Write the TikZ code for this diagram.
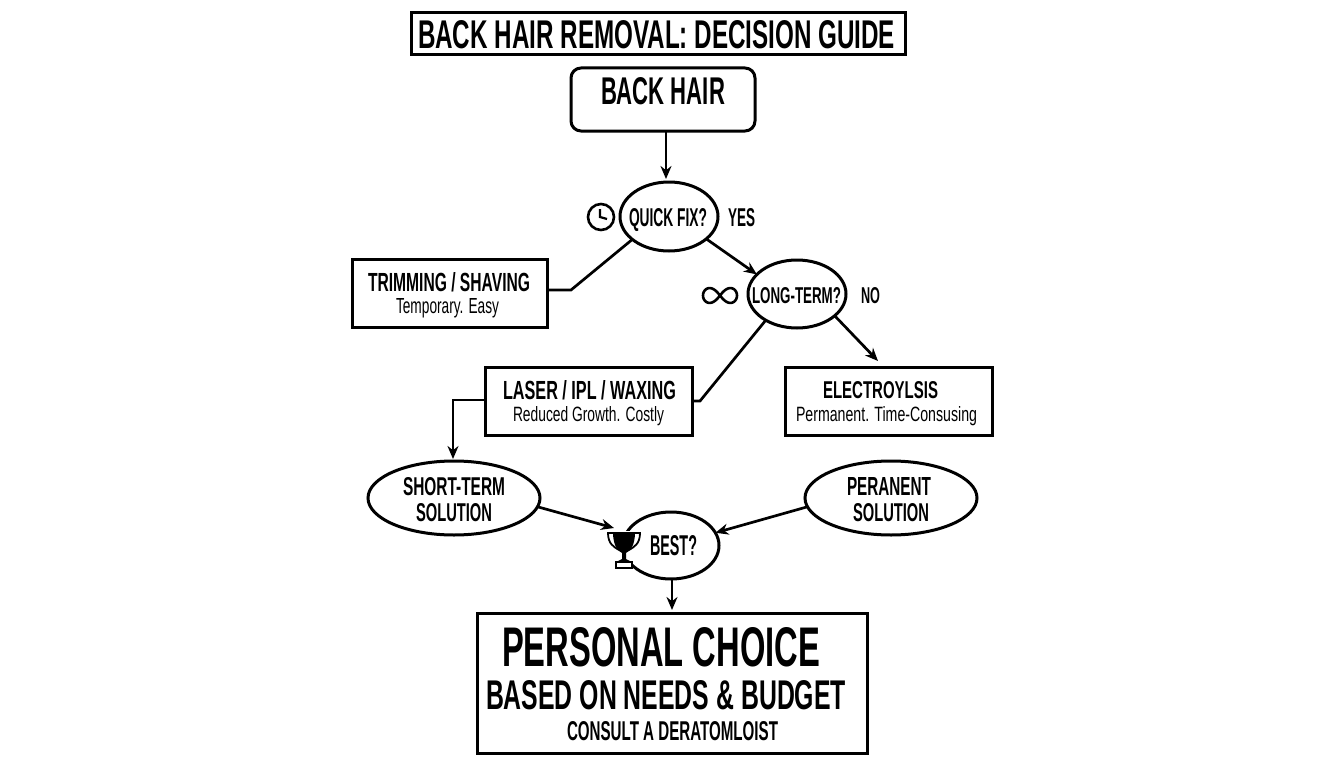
\documentclass[tikz,border=0pt]{standalone}
\usepackage{graphicx}
\usepackage{fontspec}
\setmainfont[FakeStretch=0.72]{Liberation Sans}
\usetikzlibrary{arrows.meta,shapes.geometric}
\newcommand{\tx}[3]{\resizebox{#1pt}{#2pt}{\textbf{#3}}}
\newcommand{\tn}[3]{\resizebox{#1pt}{#2pt}{#3}}
\tikzset{
  boxnode/.style={draw=black,line width=3pt,fill=white,rectangle,inner sep=0pt,outer sep=0pt},
  roundnode/.style={boxnode,rounded corners=10pt},
  oval/.style={draw=black,line width=3pt,fill=white,ellipse,inner sep=0pt,outer sep=0pt},
  label text/.style={anchor=base west,inner sep=0pt,outer sep=0pt,text=black},
  link/.style={draw=black,line width=2.7pt},
  arrowlink/.style={link,-{Stealth[length=13pt,width=11pt]}},
  icon/.style={draw=black,line width=2.4pt}
}
\begin{document}
\begin{tikzpicture}[x=1pt,y=-1pt]
\useasboundingbox (0,0) rectangle (1344,768);
\fill[white] (0,0) rectangle (1344,768);

% boxes
\node[boxnode,minimum width=494pt,minimum height=42pt] (title) at (658,34) {};
\node[roundnode,minimum width=184pt,minimum height=63pt] (back) at (663,99.5) {};
\node[boxnode,minimum width=195pt,minimum height=68pt] (trim) at (449.5,293) {};
\node[boxnode,minimum width=207pt,minimum height=68pt] (laser) at (588.5,401) {};
\node[boxnode,minimum width=207pt,minimum height=68pt] (electro) at (888.5,401) {};
\node[boxnode,minimum width=390pt,minimum height=140pt] (final) at (672,683) {};

% ovals
\node[oval,minimum width=98pt,minimum height=69pt] (quick) at (669,216.5) {};
\node[oval,minimum width=98pt,minimum height=68pt] (long) at (797,294) {};
\node[oval,minimum width=172pt,minimum height=74pt] (short) at (454,498) {};
\node[oval,minimum width=172pt,minimum height=74pt] (perm) at (891,498) {};
\node[oval,minimum width=96pt,minimum height=67pt] (best) at (671,545.5) {};

% icons
\node[draw=black,line width=2.6pt,circle,minimum size=26pt,inner sep=0pt] (clock) at (601,217) {};
\draw[icon,line width=2.2pt] (clock.center) ++(-1,-8) -- ++(0,8) -- ++(7,2);
\coordinate (inf) at (720,295.5);
\begin{scope}[shift={(inf)}]
\draw[icon,line width=2.6pt] plot[domain=0:360,samples=73,smooth cycle]
  ({17*cos(\x)/(1+sin(\x)*sin(\x))},{21*sin(\x)*cos(\x)/(1+sin(\x)*sin(\x))});
\end{scope}

% trophy
\coordinate (trophy) at (624,550);
\fill[white] ([shift={(-19,-19)}]trophy) rectangle ([shift={(17,3)}]trophy);
\fill[white] ([shift={(-10,3)}]trophy) rectangle ([shift={(9,19)}]trophy);
\fill[black] ([shift={(-11,-18)}]trophy) -- ([shift={(11,-18)}]trophy)
  .. controls ([shift={(11,-4)}]trophy) and ([shift={(6,1)}]trophy) .. ([shift={(2,3)}]trophy)
  -- ([shift={(2,9)}]trophy) -- ([shift={(6,11)}]trophy) -- ([shift={(-6,11)}]trophy)
  -- ([shift={(-2,9)}]trophy) -- ([shift={(-2,3)}]trophy)
  .. controls ([shift={(-6,1)}]trophy) and ([shift={(-11,-4)}]trophy) .. ([shift={(-11,-18)}]trophy) -- cycle;
\draw[icon,line width=1.8pt] ([shift={(-11,-17)}]trophy) -- ([shift={(-16,-17)}]trophy)
  .. controls ([shift={(-16,-6)}]trophy) and ([shift={(-10,-3)}]trophy) .. ([shift={(-5,0)}]trophy);
\draw[icon,line width=1.8pt] ([shift={(11,-17)}]trophy) -- ([shift={(16,-17)}]trophy)
  .. controls ([shift={(16,-6)}]trophy) and ([shift={(10,-3)}]trophy) .. ([shift={(5,0)}]trophy);
\draw[icon,line width=1.8pt] ([shift={(-8,12)}]trophy) rectangle ([shift={(8,18)}]trophy);

% connectors
\coordinate (backend) at (666,179);
\draw[arrowlink] (back.south -| backend) -- (backend);
\coordinate (trimbend) at (571,290);
\draw[link] (trim.east |- trimbend) -- (trimbend) -- (quick.212);
\draw[arrowlink] (quick.-31) -- (long.154);
\coordinate (laserbend) at (700,401);
\draw[link] (laser.east |- laserbend) -- (laserbend) -- (long.220);
\coordinate (electroend) at (878,361);
\draw[arrowlink] (long.-30) -- (electroend);
\coordinate (laserdown) at (453,400);
\coordinate (shortend) at (453,459);
\draw[arrowlink] (laser.west |- laserdown) -- (laserdown) -- (shortend);
\draw[arrowlink] (short.-6) -- ([shift={(-10,-22)}]trophy);
\draw[arrowlink] (perm.186) -- (best.16);
\coordinate (finalend) at (672,610);
\draw[arrowlink] (best.south -| finalend) -- (finalend);

% text
\node[label text] (t1) at (418,49) {\tx{477}{28}{BACK HAIR REMOVAL: DECISION GUIDE}};
\node[label text] (t2) at (601,104) {\tx{124}{27}{BACK HAIR}};
\node[label text] (t3) at (629,226) {\tx{78}{18}{QUICK FIX?}};
\node[label text] (t4) at (728,226) {\tx{27}{18}{YES}};
\node[label text] (t5) at (368,291) {\tx{162}{19}{TRIMMING / SHAVING}};
\node[label text] (t6) at (396,313) {\tn{103}{15}{Temporary. Easy}};
\node[label text] (t7) at (752,303) {\tx{89}{16}{LONG-TERM?}};
\node[label text] (t8) at (861,303) {\tx{19}{16}{NO}};
\node[label text] (t9) at (503,399) {\tx{173}{19}{LASER / IPL / WAXING}};
\node[label text] (t10) at (513,421) {\tn{151}{15}{Reduced Growth. Costly}};
\node[label text] (t11) at (823,398) {\tx{115}{17}{ELECTROYLSIS}};
\node[label text] (t12) at (796,421) {\tn{181}{15}{Permanent. Time-Consusing}};
\node[label text] (t13) at (403,495) {\tx{102}{18}{SHORT-TERM}};
\node[label text] (t14) at (416,521) {\tx{76}{18}{SOLUTION}};
\node[label text] (t15) at (847,495) {\tx{84}{18}{PERANENT}};
\node[label text] (t16) at (853,521) {\tx{76}{18}{SOLUTION}};
\node[label text] (t17) at (650,555) {\tx{47}{20}{BEST?}};
\node[label text] (t18) at (502,666) {\tx{318}{39}{PERSONAL CHOICE}};
\node[label text] (t19) at (486,709) {\tx{360}{29}{BASED ON NEEDS \& BUDGET}};
\node[label text] (t20) at (567,740) {\tx{211}{19}{CONSULT A DERATOMLOIST}};
\end{tikzpicture}
\end{document}
